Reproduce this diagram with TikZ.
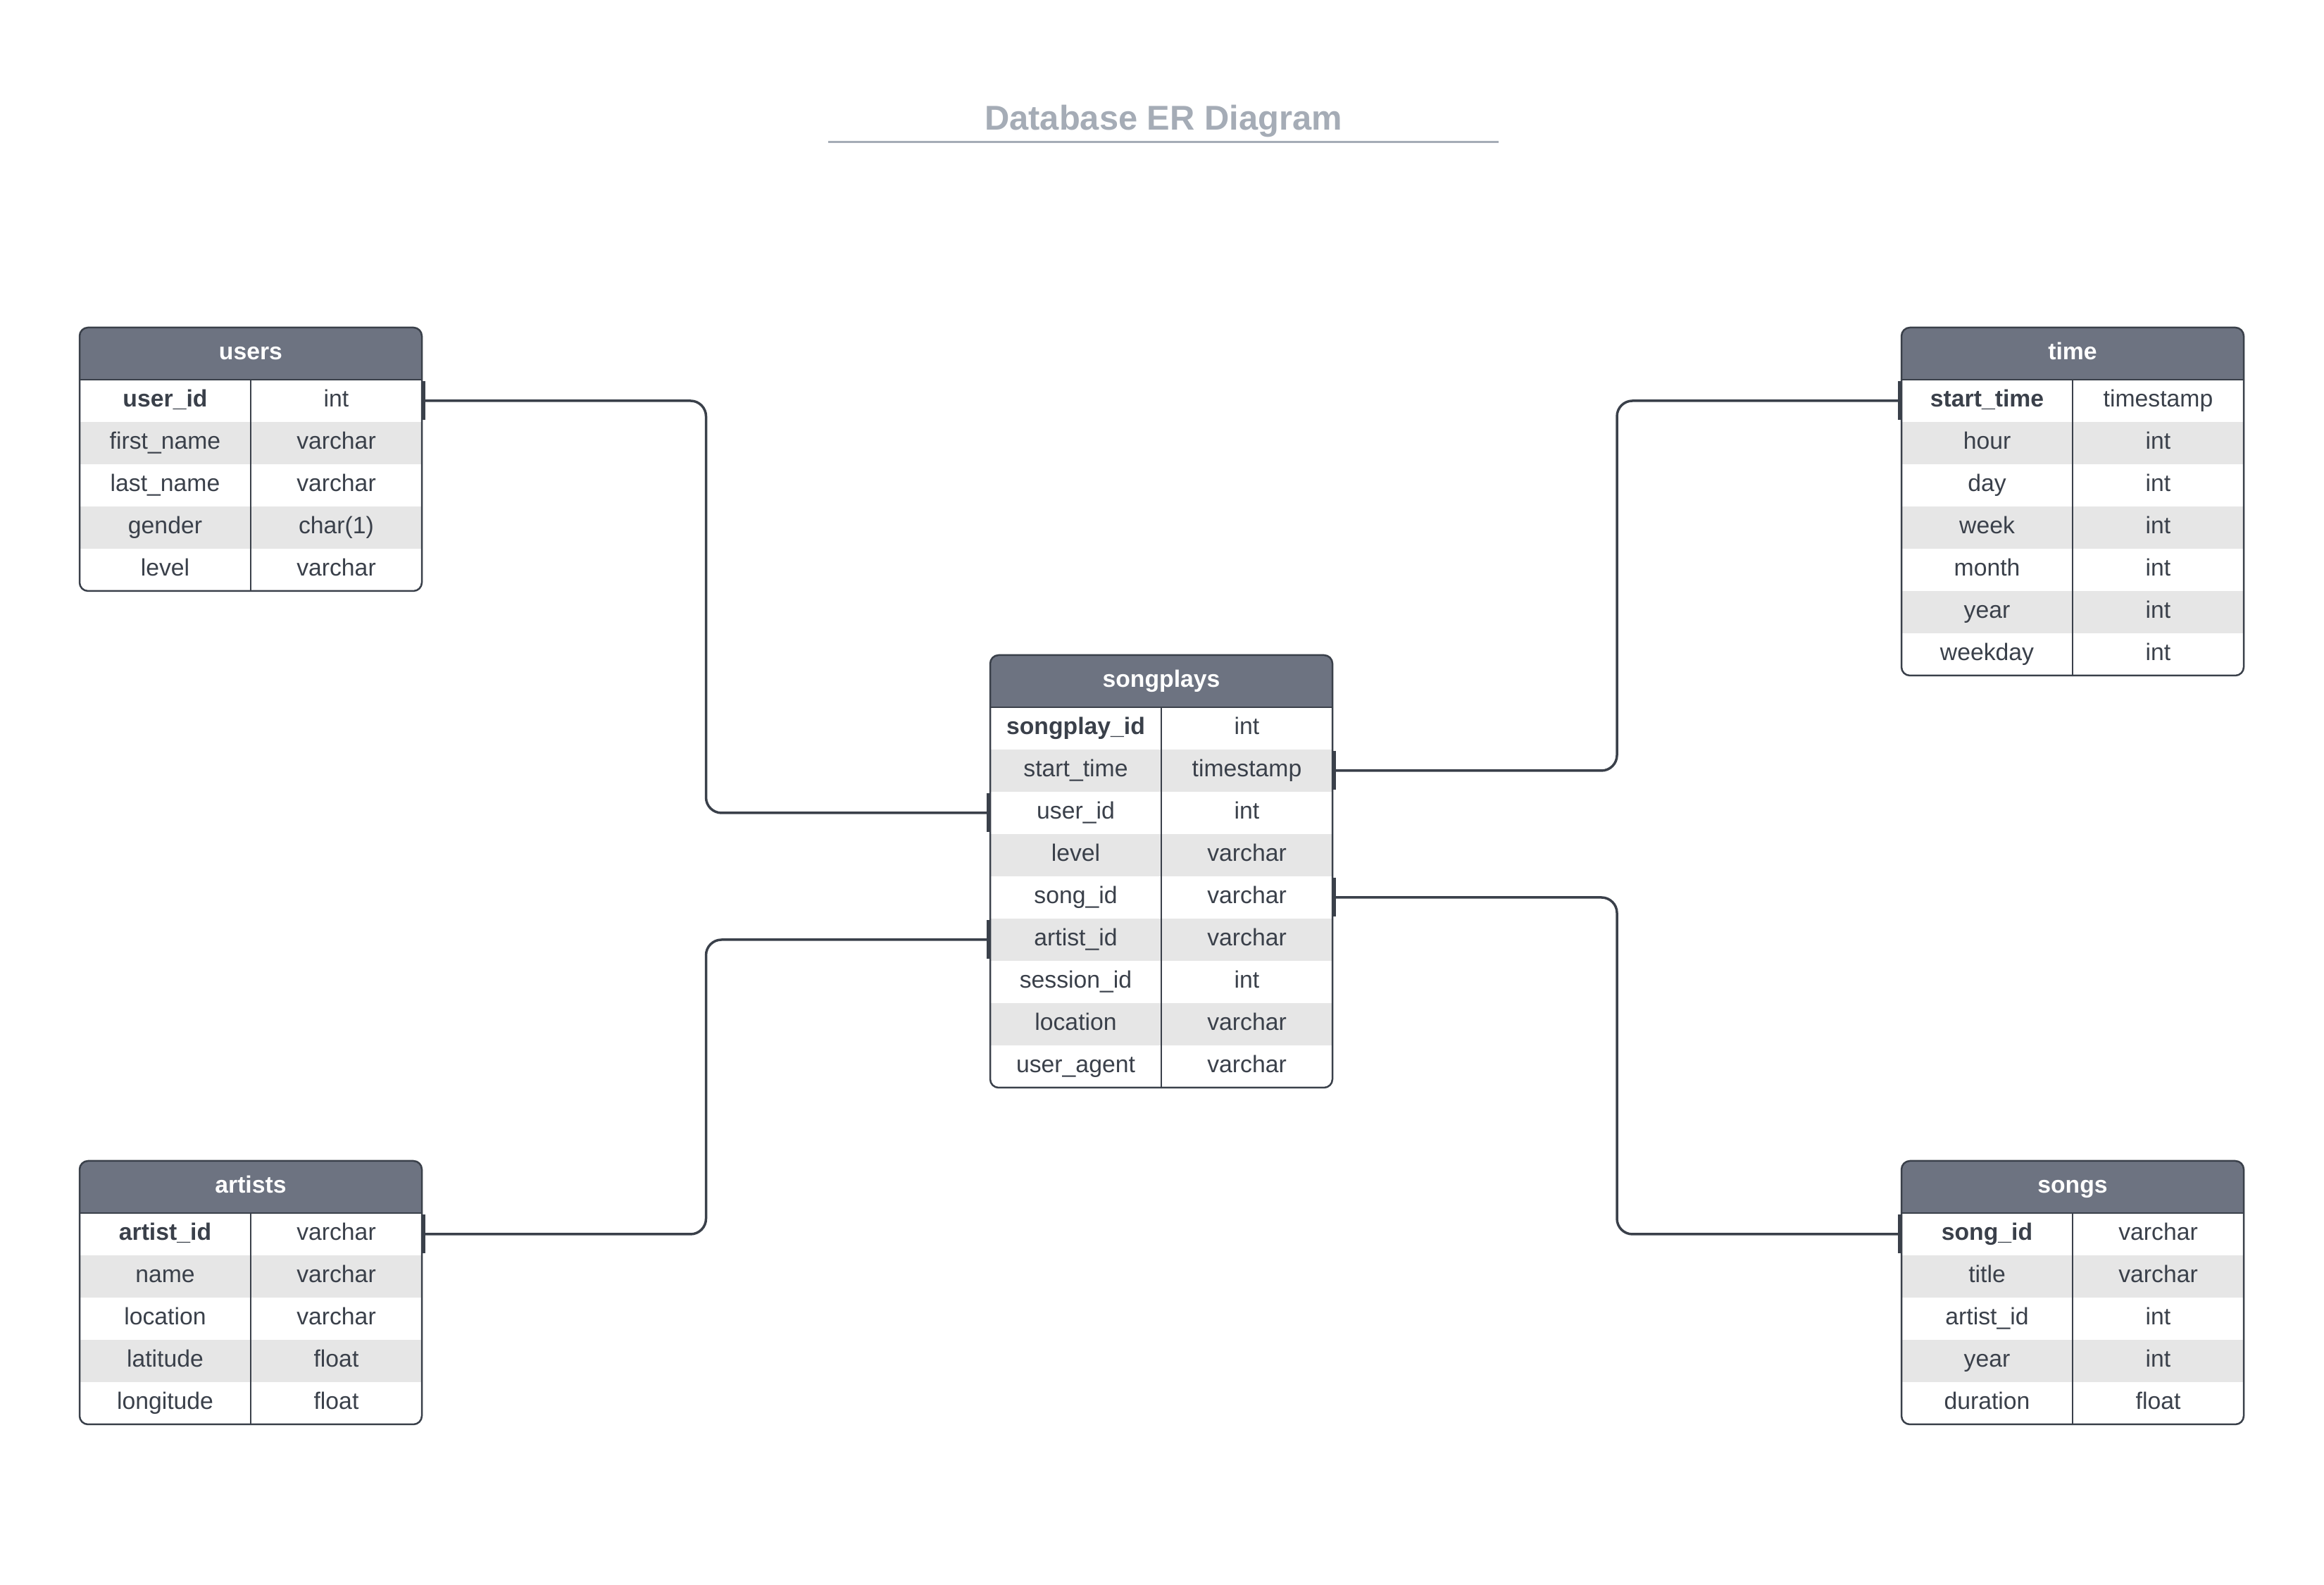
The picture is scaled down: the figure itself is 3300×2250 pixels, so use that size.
\documentclass[tikz,border=0pt]{standalone}
\usepackage{fontspec}
\setmainfont{Liberation Sans}
\usetikzlibrary{arrows.meta,calc,positioning,backgrounds}

\definecolor{ink}{HTML}{3A404A}
\definecolor{headcol}{HTML}{6D7381}
\definecolor{stripe}{HTML}{E6E6E6}
\definecolor{titlecol}{HTML}{A5ACB6}

\begin{document}
\begin{tikzpicture}[x=0.1mm, y=0.1mm, line cap=round, line join=round,
    >={Bar[width=5.5mm,line width=.5mm]},
    node distance=0pt,
    head/.style={minimum width=48.6mm, minimum height=7.4mm, inner sep=0pt, outer sep=0pt,
      text height=2.4mm, text depth=.7mm,
      text=white, font=\fontsize{9.6}{11.5}\selectfont\bfseries},
    cell/.style={minimum width=24.3mm, minimum height=6mm, inner sep=0pt, outer sep=0pt,
      text height=2.4mm, text depth=.7mm,
      text=ink, font=\fontsize{9.6}{11.5}\selectfont},
    row0/.style={fill=stripe},
    row1/.style={fill=white},
    rule/.style={draw=ink, line width=.22mm},
    frame/.style={draw=ink, line width=.25mm, rounded corners=1.2mm},
    rel/.style={draw=ink, line width=.35mm, rounded corners=2.2mm, <->}]
  \useasboundingbox (0,0) rectangle (3300,2250);

  % --- title ---
  \node[text=titlecol, font=\fontsize{13.9}{16}\selectfont\bfseries] (title) at (1652,2078) {Database ER Diagram};
  \coordinate (ul) at (1176,2048);
  \coordinate (ur) at (2128,2048);
  \draw[titlecol, line width=.3mm, line cap=butt] (ul) -- (ur);

  % --- users ---
  \node[head] (users) at (356,1748) {users};
  \foreach \f/\t [count=\i] in {\textbf{user\_id}/int, first\_name/varchar, last\_name/varchar,
      gender/char(1), level/varchar}{
    \pgfmathtruncatemacro\p{mod(\i,2)}
    \node[cell, row\p, anchor=north west] (users-\i) at ($(users.south west)+(0,{60-60*\i})$) {\f};
    \node[cell, row\p, right=of users-\i] (users-\i-t) {\t};
  }
  \begin{scope}[on background layer]
    \fill[headcol, rounded corners=1.2mm] (users.north west) rectangle (users-5-t.south east);
  \end{scope}
  \draw[rule] (users.south west) -- (users.south east) (users.south) -- (users-5.south east);
  \draw[frame] (users.north west) rectangle (users-5-t.south east);

  % --- time ---
  \node[head] (time) at (2943,1748) {time};
  \foreach \f/\t [count=\i] in {\textbf{start\_time}/timestamp, hour/int, day/int, week/int,
      month/int, year/int, weekday/int}{
    \pgfmathtruncatemacro\p{mod(\i,2)}
    \node[cell, row\p, anchor=north west] (time-\i) at ($(time.south west)+(0,{60-60*\i})$) {\f};
    \node[cell, row\p, right=of time-\i] (time-\i-t) {\t};
  }
  \begin{scope}[on background layer]
    \fill[headcol, rounded corners=1.2mm] (time.north west) rectangle (time-7-t.south east);
  \end{scope}
  \draw[rule] (time.south west) -- (time.south east) (time.south) -- (time-7.south east);
  \draw[frame] (time.north west) rectangle (time-7-t.south east);

  % --- songplays ---
  \node[head] (sp) at (1649,1283) {songplays};
  \foreach \f/\t [count=\i] in {\textbf{songplay\_id}/int, start\_time/timestamp, user\_id/int,
      level/varchar, song\_id/varchar, artist\_id/varchar, session\_id/int,
      location/varchar, user\_agent/varchar}{
    \pgfmathtruncatemacro\p{mod(\i,2)}
    \node[cell, row\p, anchor=north west] (sp-\i) at ($(sp.south west)+(0,{60-60*\i})$) {\f};
    \node[cell, row\p, right=of sp-\i] (sp-\i-t) {\t};
  }
  \begin{scope}[on background layer]
    \fill[headcol, rounded corners=1.2mm] (sp.north west) rectangle (sp-9-t.south east);
  \end{scope}
  \draw[rule] (sp.south west) -- (sp.south east) (sp.south) -- (sp-9.south east);
  \draw[frame] (sp.north west) rectangle (sp-9-t.south east);

  % --- artists ---
  \node[head] (artists) at (356,565) {artists};
  \foreach \f/\t [count=\i] in {\textbf{artist\_id}/varchar, name/varchar, location/varchar,
      latitude/float, longitude/float}{
    \pgfmathtruncatemacro\p{mod(\i,2)}
    \node[cell, row\p, anchor=north west] (artists-\i) at ($(artists.south west)+(0,{60-60*\i})$) {\f};
    \node[cell, row\p, right=of artists-\i] (artists-\i-t) {\t};
  }
  \begin{scope}[on background layer]
    \fill[headcol, rounded corners=1.2mm] (artists.north west) rectangle (artists-5-t.south east);
  \end{scope}
  \draw[rule] (artists.south west) -- (artists.south east) (artists.south) -- (artists-5.south east);
  \draw[frame] (artists.north west) rectangle (artists-5-t.south east);

  % --- songs ---
  \node[head] (songs) at (2943,565) {songs};
  \foreach \f/\t [count=\i] in {\textbf{song\_id}/varchar, title/varchar, artist\_id/int,
      year/int, duration/float}{
    \pgfmathtruncatemacro\p{mod(\i,2)}
    \node[cell, row\p, anchor=north west] (songs-\i) at ($(songs.south west)+(0,{60-60*\i})$) {\f};
    \node[cell, row\p, right=of songs-\i] (songs-\i-t) {\t};
  }
  \begin{scope}[on background layer]
    \fill[headcol, rounded corners=1.2mm] (songs.north west) rectangle (songs-5-t.south east);
  \end{scope}
  \draw[rule] (songs.south west) -- (songs.south east) (songs.south) -- (songs-5.south east);
  \draw[frame] (songs.north west) rectangle (songs-5-t.south east);

  % --- relations ---
  \coordinate (lm) at ($(users.east)!.5!(sp.west)$);
  \coordinate (rm) at ($(sp.east)!.5!(time.west)$);
  \draw[rel] (users-1-t.east) -| (lm |- sp-3.west) -- (sp-3.west);
  \draw[rel] (artists-1-t.east) -| (lm |- sp-6.west) -- (sp-6.west);
  \draw[rel] (sp-2-t.east) -| (rm |- time-1.west) -- (time-1.west);
  \draw[rel] (sp-5-t.east) -| (rm |- songs-1.west) -- (songs-1.west);
\end{tikzpicture}
\end{document}
